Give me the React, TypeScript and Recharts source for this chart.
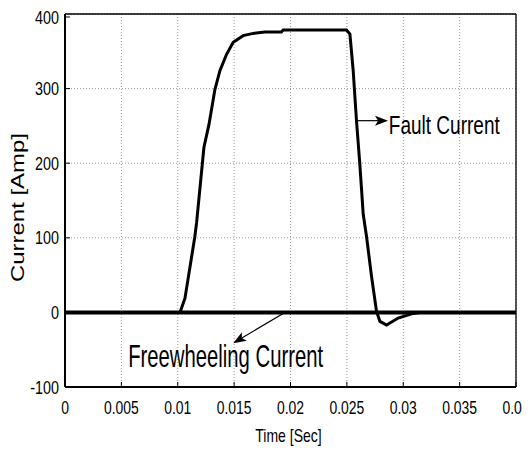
import React from "react";
import {
  LineChart,
  Line,
  XAxis,
  YAxis,
  CartesianGrid,
  ReferenceLine,
  ReferenceDot,
  Label,
} from "recharts";

// ---- data ----
const xTicks = [0, 0.005, 0.01, 0.015, 0.02, 0.025, 0.03, 0.035, 0.04];
const xTickLabels = ["0", "0.005", "0.01", "0.015", "0.02", "0.025", "0.03", "0.035", "0.04"];
const yTicks = [-100, 0, 100, 200, 300, 400];
const yTickLabels = ["-100", "0", "100", "200", "300", "400"];

const faultTime = [
  0, 0.0102, 0.01064, 0.0115, 0.01167, 0.01232, 0.01277, 0.0133, 0.01374, 0.01433,
  0.01492, 0.0158, 0.0167, 0.01773, 0.0192, 0.01935, 0.02497, 0.02527, 0.02556,
  0.02585, 0.02615, 0.02645, 0.02674, 0.02719, 0.02763, 0.02793, 0.02852, 0.02955,
  0.03073, 0.0315, 0.04,
];
const faultCurrent = [
  0, 0, 19, 100, 120, 221, 252, 299, 324, 346,
  362, 371, 374, 376, 376, 378.6, 378.6, 373, 324,
  257.6, 198.5, 131.5, 102, 48, 1.3, -12, -17, -7.6,
  -2, 0, 0,
];
const freeTime = [0, 0.04];
const freeCurrent = [0, 0];

const faultData = faultTime.map((x, i) => ({ x, y: faultCurrent[i] }));
const freeData = freeTime.map((x, i) => ({ x, y: freeCurrent[i] }));

// annotations (data units)
const faultArrow = { x1: 0.0258, x2: 0.02865, y: 257 };
const faultLabel = { x: 0.02872, y: 238.8, text: "Fault Current" };
const freeArrow = { x1: 0.0195, y1: 0, x2: 0.01492, y2: -41.3 };
const freeLabel = { x: 0.0056, y: -72.6, text: "Freewheeling Current" };

const FONT = "'Liberation Sans', Arial, sans-serif";

// Arial / Liberation Sans advance widths (per em)
const W: Record<string, number> = {
  "0": 0.556, "1": 0.556, "2": 0.556, "3": 0.556, "4": 0.556, "5": 0.556,
  "6": 0.556, "7": 0.556, "8": 0.556, "9": 0.556, ".": 0.278, "-": 0.333,
  " ": 0.278, "[": 0.278, "]": 0.278, F: 0.611, T: 0.611, C: 0.722, S: 0.667,
  A: 0.667, a: 0.556, u: 0.556, l: 0.222, t: 0.278, r: 0.333, e: 0.556,
  n: 0.556, w: 0.722, h: 0.556, i: 0.222, g: 0.556, m: 0.833, c: 0.5, p: 0.556,
};
const natWidth = (s: string, size: number) => {
  let w = 0;
  for (const c of s) w += W[c] ?? 0.556;
  return w * size;
};

// text squeezed/stretched horizontally to a target width
const SText = ({
  x, y, s, size, width, anchor = "start", rotate = 0, dy,
}: any) => {
  const sx = width / natWidth(s, size);
  return (
    <text
      x={0}
      y={0}
      dy={dy}
      transform={`translate(${x} ${y}) rotate(${rotate}) scale(${sx} 1)`}
      textAnchor={anchor}
      fontFamily={FONT}
      fontSize={size}
      fill="#000"
    >
      {s}
    </text>
  );
};

const Arrow = (props: any) => {
  const { x1, y1, x2, y2 } = props;
  const dx = x2 - x1;
  const dy = y2 - y1;
  const len = Math.sqrt(dx * dx + dy * dy) || 1;
  const ux = dx / len;
  const uy = dy / len;
  const hl = 13;
  const hw = 5;
  const bx = x2 - ux * hl;
  const by = y2 - uy * hl;
  const pts = `${x2},${y2} ${bx - uy * hw},${by + ux * hw} ${bx + ux * 3},${by + uy * 3} ${bx + uy * hw},${by - ux * hw}`;
  return (
    <g>
      <line x1={x1} y1={y1} x2={bx + ux * 3} y2={by + uy * 3} stroke="#000" strokeWidth={1.2} />
      <polygon points={pts} fill="#000" />
    </g>
  );
};

const XTick = (props: any) => {
  const { x, y, index } = props;
  const s = xTickLabels[index];
  return (
    <g>
      <line x1={x} y1={y} x2={x} y2={y - 5} stroke="#000" strokeWidth={1} />
      <SText x={x} y={y + 27} s={s} size={18} width={natWidth(s, 17) * 0.82} anchor="middle" />
    </g>
  );
};

const YTick = (props: any) => {
  const { x, y, index } = props;
  const s = yTickLabels[index];
  return (
    <g>
      <line x1={x} y1={y} x2={x + 5} y2={y} stroke="#000" strokeWidth={1} />
      <SText x={x - 6} y={y} dy="0.36em" s={s} size={18.5} width={natWidth(s, 17.5) * 0.82} anchor="end" />
    </g>
  );
};

const RTick = (props: any) => {
  const { x, y } = props;
  return <line x1={x} y1={y} x2={x - 5} y2={y} stroke="#000" strokeWidth={1} />;
};

const TTick = (props: any) => {
  const { x, y } = props;
  return <line x1={x} y1={y} x2={x} y2={y + 5} stroke="#000" strokeWidth={1} />;
};

const TextShape = (text: string, size: number, length: number) => (props: any) => {
  const { cx, cy } = props;
  return <SText x={cx} y={cy} s={text} size={size} width={length} />;
};

const XLabel = (props: any) => {
  const { viewBox } = props;
  const cx = viewBox.x + viewBox.width / 2 - 2;
  return <SText x={cx} y={433.5} s="Time [Sec]" size={17.5} width={67} anchor="middle" />;
};

const YLabel = (props: any) => {
  const { viewBox } = props;
  const cy = viewBox.y + viewBox.height / 2 + 7;
  return <SText x={16.3} y={cy} s="Current [Amp]" size={19} width={149} anchor="middle" rotate={-90} />;
};

export default function App() {
  return (
    <LineChart
      width={522}
      height={442}
      margin={{ top: 0, right: 0, bottom: 0, left: 0 }}
      style={{ background: "#fff" }}
    >
      <CartesianGrid stroke="#999" strokeDasharray="1 2" strokeWidth={1} />
      <XAxis
        xAxisId={0}
        dataKey="x"
        type="number"
        domain={[0, 0.04]}
        ticks={xTicks}
        height={63}
        tickSize={0}
        tickMargin={0}
        tickLine={false}
        tick={<XTick />}
        axisLine={{ stroke: "#000", strokeWidth: 2 }}
        allowDataOverflow
      >
        <Label content={<XLabel />} />
      </XAxis>
      <XAxis
        xAxisId="top"
        orientation="top"
        dataKey="x"
        type="number"
        domain={[0, 0.04]}
        ticks={xTicks}
        height={6}
        tickSize={0}
        tickMargin={0}
        tickLine={false}
        tick={<TTick />}
        axisLine={{ stroke: "#000", strokeWidth: 1.3 }}
      />
      <YAxis
        yAxisId={0}
        type="number"
        domain={[-100, 400]}
        ticks={yTicks}
        width={57}
        tickSize={0}
        tickMargin={0}
        tickLine={false}
        tick={<YTick />}
        axisLine={{ stroke: "#000", strokeWidth: 2 }}
        allowDataOverflow
      >
        <Label content={<YLabel />} />
      </YAxis>
      <YAxis
        yAxisId="right"
        orientation="right"
        type="number"
        domain={[-100, 400]}
        ticks={yTicks}
        width={14}
        tickSize={0}
        tickMargin={0}
        tickLine={false}
        tick={<RTick />}
        axisLine={{ stroke: "#000", strokeWidth: 1.3 }}
      />
      <Line
        data={faultData}
        dataKey="y"
        type="linear"
        stroke="#000"
        strokeWidth={3}
        dot={false}
        isAnimationActive={false}
      />
      <Line
        data={freeData}
        dataKey="y"
        type="linear"
        stroke="#000"
        strokeWidth={4}
        dot={false}
        isAnimationActive={false}
      />
      <ReferenceLine
        segment={[
          { x: faultArrow.x1, y: faultArrow.y },
          { x: faultArrow.x2, y: faultArrow.y },
        ]}
        shape={<Arrow />}
      />
      <ReferenceLine
        segment={[
          { x: freeArrow.x1, y: freeArrow.y1 },
          { x: freeArrow.x2, y: freeArrow.y2 },
        ]}
        shape={<Arrow />}
      />
      <ReferenceDot
        x={faultLabel.x}
        y={faultLabel.y}
        r={0}
        shape={TextShape(faultLabel.text, 25.5, 111)}
      />
      <ReferenceDot
        x={freeLabel.x}
        y={freeLabel.y}
        r={0}
        shape={TextShape(freeLabel.text, 31, 195)}
      />
    </LineChart>
  );
}
